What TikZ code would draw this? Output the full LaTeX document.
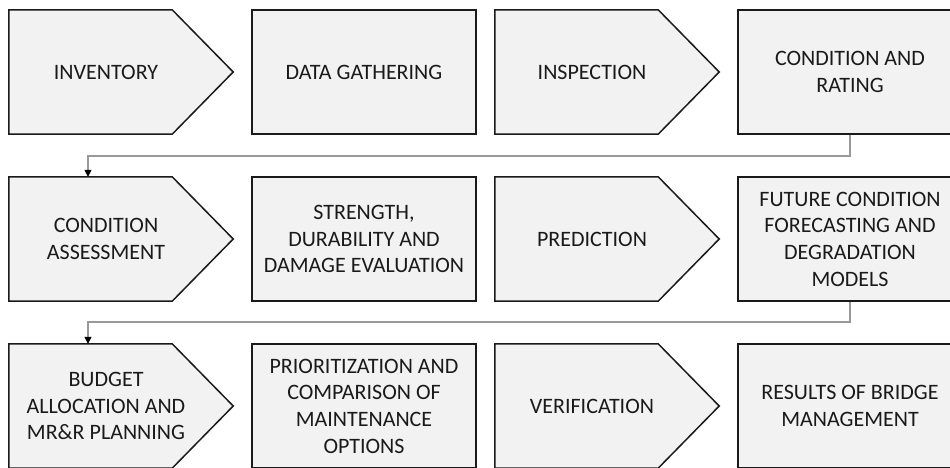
\documentclass[tikz,border=0pt]{standalone}
\usepackage{fontspec}
\setmainfont{Carlito}
\usepackage{tikz}
\usetikzlibrary{arrows.meta,backgrounds}

\definecolor{boxfill}{HTML}{F2F2F2}
\definecolor{boxline}{HTML}{1A1A1A}
\definecolor{linkgray}{HTML}{999999}

\tikzset{
  card/.style={draw=boxline, fill=boxfill, line width=1.5pt, minimum width=224pt,
    minimum height=124pt, inner sep=0pt, align=center, text=boxline,
    font=\fontsize{22}{26.7}\selectfont},
  chev/.style={minimum width=194pt, minimum height=124pt, inner sep=0pt,
    align=center, text=boxline, font=\fontsize{22}{26.7}\selectfont},
  link/.style={linkgray, line width=1.5pt, -{Triangle[black,length=7pt,width=7pt]}}
}

\begin{document}
\begin{tikzpicture}[x=1pt,y=-1pt]
    \clip (0,0) rectangle (950,468);
    % first row
    \node[chev] (inv) at (106,72) {INVENTORY};
    \node[card] (data) at (364,72) {DATA GATHERING};
    \node[chev] (insp) at (592,72) {INSPECTION};
    \node[card] (rating) at (850,72) {CONDITION AND\\RATING};
    % second row
    \node[chev] (assess) at (106,239) {CONDITION\\ASSESSMENT};
    \node[card] (strength) at (364,239) {STRENGTH,\\DURABILITY AND\\DAMAGE EVALUATION};
    \node[chev] (pred) at (592,239) {PREDICTION};
    \node[card] (models) at (850,239) {FUTURE CONDITION\\FORECASTING AND\\DEGRADATION\\MODELS};
    % third row
    \node[chev] (budget) at (106,406) {BUDGET\\ALLOCATION AND\\MR\&R PLANNING};
    \node[card] (prior) at (364,406) {PRIORITIZATION AND\\COMPARISON OF\\MAINTENANCE\\OPTIONS};
    \node[chev] (verif) at (592,406) {VERIFICATION};
    \node[card] (results) at (850,406) {RESULTS OF BRIDGE\\MANAGEMENT};
    % pentagons behind the chevron texts
    \begin{pgfonlayer}{background}
    \foreach \n in {inv,insp,assess,pred,budget,verif}
      \draw[draw=boxline, fill=boxfill, line width=1.5pt, line join=miter]
        (\n.north west) -- ([xshift=-31pt]\n.north east) -- ([xshift=30pt]\n.east)
        -- ([xshift=-31pt]\n.south east) -- (\n.south west) -- cycle;
    \end{pgfonlayer}
    % row links
    \draw[link] (rating.south) -- ++(0,21) -| ([xshift=-18pt]assess.north);
    \draw[link] (models.south) -- ++(0,20) -| ([xshift=-18pt]budget.north);
\end{tikzpicture}
\end{document}
